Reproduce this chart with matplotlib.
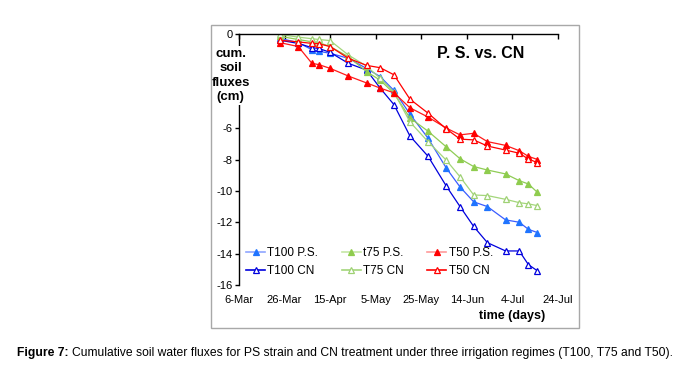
import numpy as np
import matplotlib
matplotlib.use("Agg")
import matplotlib.pyplot as plt
import matplotlib.dates as mdates
from matplotlib.lines import Line2D
from matplotlib.patches import Rectangle

plt.rcParams['font.family'] = ['Liberation Sans', 'DejaVu Sans']
plt.rcParams['axes.unicode_minus'] = False

# fechas de muestreo (año arbitrario, no bisiesto)
fechas = np.array(['2010-03-24', '2010-04-01', '2010-04-07', '2010-04-10', '2010-04-15',
                   '2010-04-23', '2010-05-01', '2010-05-07', '2010-05-13', '2010-05-20',
                   '2010-05-28', '2010-06-05', '2010-06-11', '2010-06-17', '2010-06-23',
                   '2010-07-01', '2010-07-07', '2010-07-11', '2010-07-15'], dtype='datetime64[D]')

t100_ps = [-0.28, -0.55, -1.0, -1.1, -1.23, -1.55, -2.2, -2.72, -3.6, -5.1,
           -6.65, -8.55, -9.75, -10.7, -11.0, -11.85, -12.0, -12.45, -12.66]
t100_cn = [-0.4, -0.6, -0.87, -0.92, -1.17, -1.87, -2.3, -3.46, -4.5, -6.5,
           -7.8, -9.7, -11.0, -12.27, -13.3, -13.83, -13.83, -14.7, -15.1]
t75_ps = [-0.15, -0.35, -0.5, -0.55, -0.8, -1.45, -2.4, -2.95, -3.78, -5.35,
          -6.2, -7.2, -7.95, -8.45, -8.67, -8.92, -9.35, -9.56, -10.1]
t75_cn = [-0.03, -0.2, -0.3, -0.35, -0.42, -1.34, -2.05, -2.83, -3.7, -5.6,
          -6.87, -8.05, -9.1, -10.26, -10.3, -10.54, -10.75, -10.83, -10.94]
t50_ps = [-0.55, -0.8, -1.87, -1.95, -2.19, -2.68, -3.12, -3.45, -3.75, -4.7,
          -5.3, -6.0, -6.43, -6.33, -6.86, -7.1, -7.44, -7.8, -8.0]
t50_cn = [-0.4, -0.5, -0.6, -0.62, -0.8, -1.55, -2.0, -2.15, -2.6, -4.15,
          -5.05, -6.05, -6.7, -6.75, -7.14, -7.4, -7.6, -7.97, -8.2]

etiquetas = ["T100 P.S.", "T100 CN", "t75 P.S.", "T75 CN", "T50 P.S.", "T50 CN"]
y_ticks = [-16, -14, -12, -10, -8, -6, -4, -2, 0]
y_labels = ["-16", "-14", "-12", "-10", "-8", "-6", "", "", "0"]

# (valores, color linea, color marcador, relleno, color linea leyenda)
estilos = [
    (t100_ps, '#3a5cff', '#1f74ff', True, '#8fa6ff'),
    (t100_cn, '#0000dd', '#0000dd', False, '#0000dd'),
    (t75_ps, '#8fcc55', '#8fcc4e', True, '#c5e6a6'),
    (t75_cn, '#a3d67a', '#9fd174', False, '#a3d67a'),
    (t50_ps, '#ff1a1a', '#ff0000', True, '#ff9a9a'),
    (t50_cn, '#ff0000', '#ff0000', False, '#ff0000'),
]

fig = plt.figure(figsize=(6.78, 3.71), dpi=100)
ax = fig.add_axes([239/678, 1-285/371, (558-239)/678, (285-34)/371])

handles = []
for (vals, lc, mc, lleno, leg_c), lab in zip(estilos, etiquetas):
    mfc = mc if lleno else 'white'
    ax.plot(fechas, vals, color=lc, lw=0.9, marker='^', ms=4.2,
            mfc=mfc, mec=mc, mew=0.9)
    handles.append(Line2D([], [], color=leg_c, lw=1.2, marker='^', ms=4.2,
                          mfc=mfc, mec=mc, mew=0.9, label=lab))

inicio = np.datetime64('2010-03-06')
fin = np.datetime64('2010-07-24')
ax.set_xlim(inicio, fin)
ax.set_ylim(-16, 0)
ax.set_xticks(np.arange(inicio, fin + 1, 20))
ax.xaxis.set_major_formatter(mdates.DateFormatter('%-d-%b'))
ax.set_yticks(y_ticks)
ax.set_yticklabels(y_labels)

ax.spines['bottom'].set_visible(False)
ax.spines['right'].set_visible(False)
ax.spines['top'].set_linewidth(1.0)
ax.spines['left'].set_linewidth(1.0)
ax.tick_params(axis='x', top=True, bottom=False, labeltop=False, labelbottom=True,
               direction='in', length=3.5, width=1, pad=7, labelsize=8)
ax.tick_params(axis='y', direction='out', length=3, width=1, pad=1.5, labelsize=8)

ax.text(-0.026, 0.835, "cum.\nsoil\nfluxes\n(cm)", transform=ax.transAxes,
        ha='center', va='center', fontsize=9.5, fontweight='bold', linespacing=1.25,
        bbox=dict(facecolor='white', edgecolor='none', pad=1.5), zorder=10)
ax.text(481/678, 1-54/371, "P. S. vs. CN", transform=fig.transFigure,
        ha='center', va='center', fontsize=11.5, fontweight='bold')
fig.text(512/678, 1-316/371, "time (days)", ha='center', va='center',
         fontsize=9, fontweight='bold')

ax.legend(handles=handles, ncol=3, loc='lower left', bbox_to_anchor=(0.0, 0.003),
          frameon=False, fontsize=8.5, handlelength=1.6, handletextpad=0.2,
          columnspacing=2.0, labelspacing=0.55, borderaxespad=0.2)

# marco exterior
fig.patches.append(Rectangle((211/678, 1-328/371), (579-211)/678, (328-25)/371,
                             transform=fig.transFigure, fill=False,
                             edgecolor='#a8a8a8', lw=1.0))

# pie de figura
t1 = fig.text(17/678, 1-353/371, "Figure 7:", fontsize=8.7, fontweight='bold', va='center')
fig.canvas.draw()
bb = t1.get_window_extent()
fig.text((bb.x1 + 3)/678, 1-353/371,
         "Cumulative soil water fluxes for PS strain and CN treatment under three irrigation regimes (T100, T75 and T50).",
         fontsize=8.7, va='center')

fig.savefig("out.png", dpi=100)
